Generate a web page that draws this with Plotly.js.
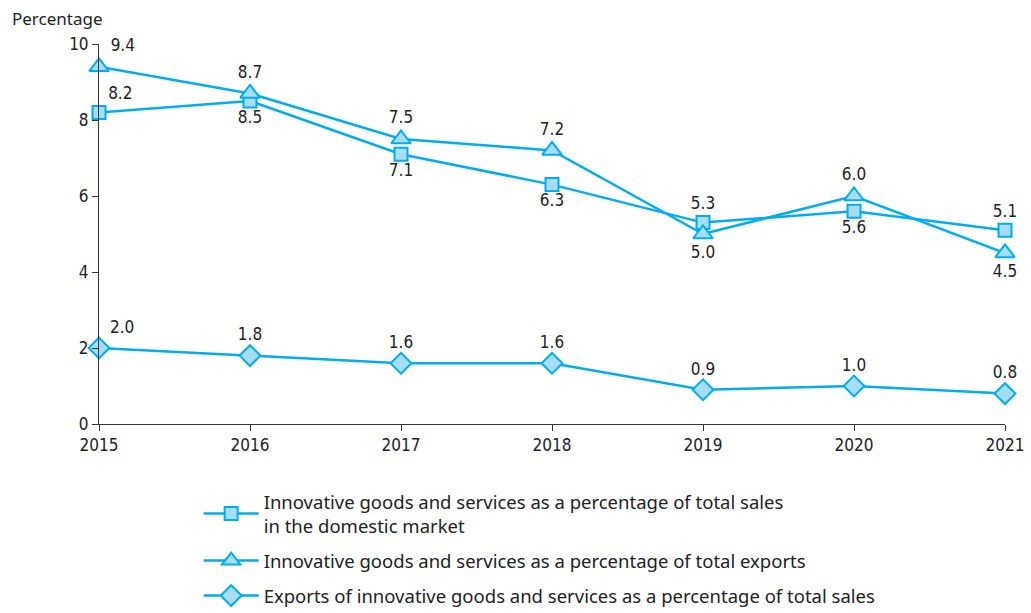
<!DOCTYPE html>
<html><head><meta charset="utf-8">
<script src="https://cdn.plot.ly/plotly-3.0.1.min.js"></script>
<style>body{margin:0;background:#fff}#chart{width:1031px;height:613px}</style>
</head><body><div id="chart"></div>
<script>
const years = [2015, 2016, 2017, 2018, 2019, 2020, 2021];
const domesticSales = [8.2, 8.5, 7.1, 6.3, 5.3, 5.6, 5.1];
const totalExports = [9.4, 8.7, 7.5, 7.2, 5.0, 6.0, 4.5];
const exportsOfSales = [2.0, 1.8, 1.6, 1.6, 0.9, 1.0, 0.8];
const seriesNames = [
  'Innovative goods and services as a percentage of total sales<br>in the domestic market',
  'Innovative goods and services as a percentage of total exports',
  'Exports of innovative goods and services as a percentage of total sales'
];

const lineColor = '#00AEEF';
const fillColor = '#A6DDF5';
const labelFont = {family: 'DejaVu Sans Condensed, Liberation Sans Narrow, sans-serif', size: 17, color: '#222'};
const textFont = {family: 'Noto Sans, Open Sans, sans-serif', size: 17, color: '#222'};
const legendFont = {family: 'Noto Sans, Open Sans, sans-serif', size: 18.5, color: '#222'};

function trace(y, name, symbol, size, pos, grp) {
  return {
    x: years, y: y, name: name, type: 'scatter', mode: 'lines+markers+text',
    legendgroup: grp,
    line: {color: lineColor, width: 2.5},
    marker: {symbol: symbol, size: size, color: fillColor, line: {color: lineColor, width: 2}},
    texttemplate: '%{y:.1f}', textposition: pos, textfont: labelFont,
    cliponaxis: false
  };
}

const data = [
  trace(domesticSales, seriesNames[0], 'square', 13,
    ['top right','bottom center','bottom center','bottom center','top center','bottom center','top center'], 'a'),
  trace(totalExports, seriesNames[1], 'triangle-up', 17,
    ['top right','top center','top center','top center','bottom center','top center','bottom center'], 'b'),
  trace(exportsOfSales, seriesNames[2], 'diamond', 16,
    ['top right','top center','top center','top center','top center','top center','top center'], 'c')
];

const layout = {
  width: 1031, height: 613,
  margin: {l: 99, r: 26, t: 44, b: 189, autoexpand: false},
  paper_bgcolor: '#fff', plot_bgcolor: '#fff',
  showlegend: true,
  legend: {
    x: 0.11, xanchor: 'left', y: -0.155, yanchor: 'top',
    font: legendFont, traceorder: 'grouped',
    tracegroupgap: 8, itemwidth: 55
  },
  xaxis: {
    range: [2015, 2021], tickvals: years, ticktext: years.map(String),
    showgrid: false, zeroline: false, showline: true, linecolor: '#333', linewidth: 1,
    ticks: 'outside', ticklen: 6, tickcolor: '#333',
    tickfont: labelFont
  },
  yaxis: {
    range: [0, 10], tickvals: [0, 2, 4, 6, 8, 10],
    showgrid: false, zeroline: false, showline: true, linecolor: '#333', linewidth: 1,
    ticks: 'outside', ticklen: 6, tickcolor: '#333',
    tickfont: labelFont
  },
  annotations: [{
    text: 'Percentage', xref: 'paper', yref: 'paper', x: -0.098, y: 1.068,
    xanchor: 'left', yanchor: 'middle', showarrow: false,
    font: textFont
  }]
};

Plotly.newPlot('chart', data, layout, {displayModeBar: false, staticPlot: true});
</script></body></html>
